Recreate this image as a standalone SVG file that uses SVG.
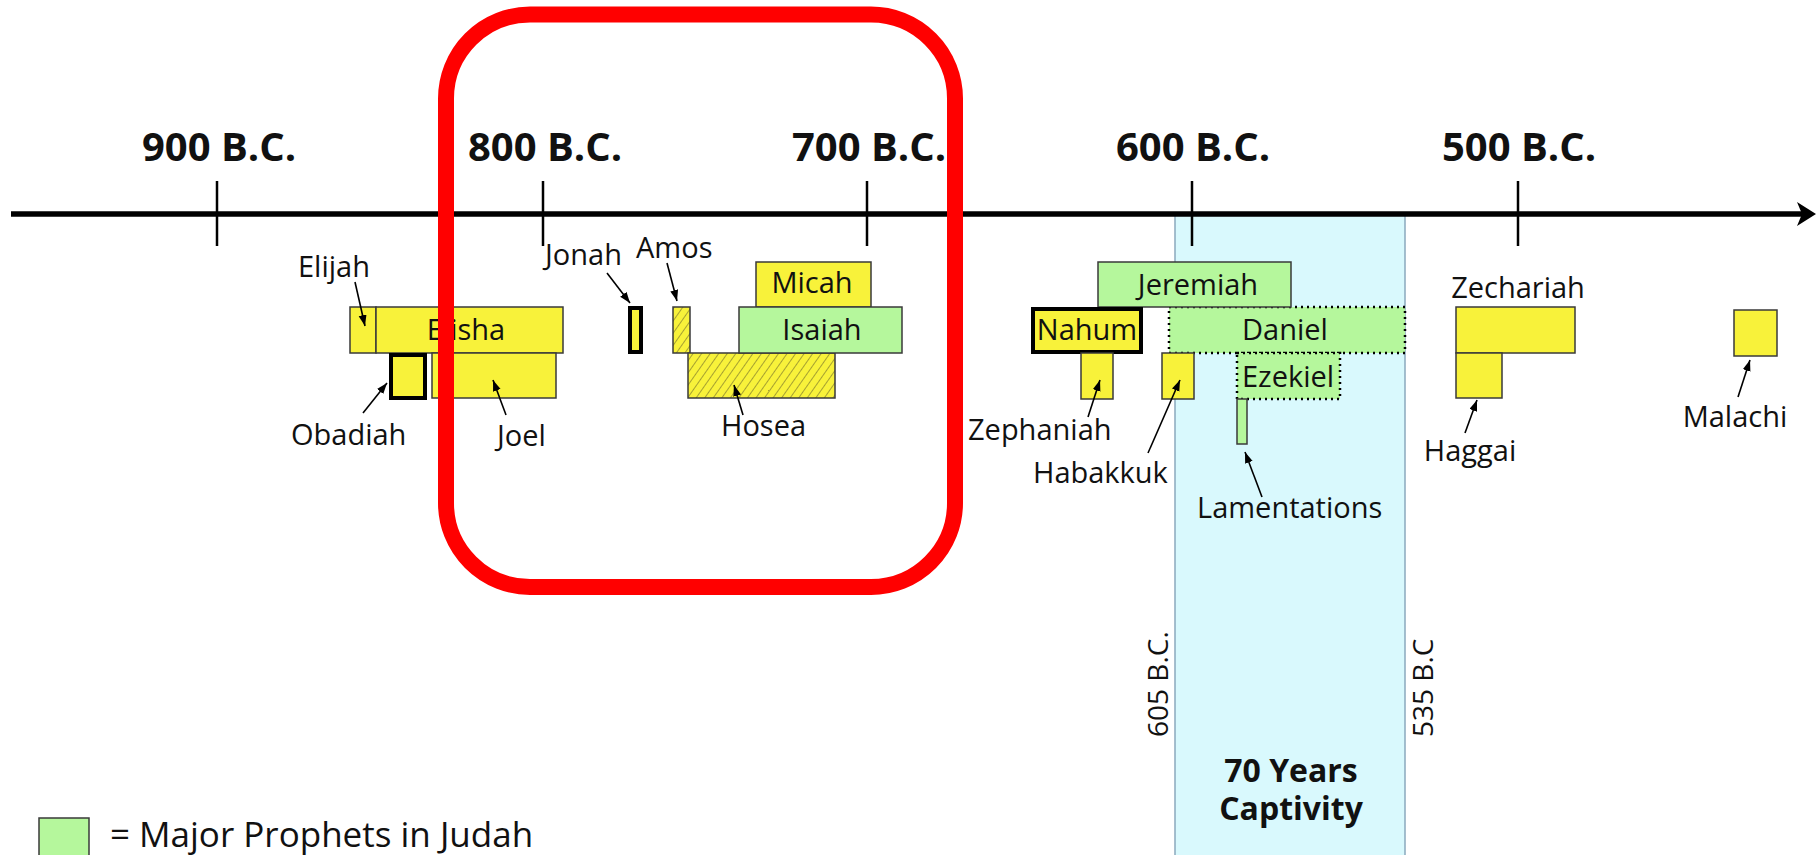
<svg xmlns="http://www.w3.org/2000/svg" width="1816" height="855" viewBox="0 0 1816 855">
<style>
  text { font-family: "Open Sans", "Liberation Sans", sans-serif; fill: #111; }
  .yr { font-size: 40px; font-weight: bold; text-anchor: middle; }
  .lbl { font-size: 29px; }
  .mid { text-anchor: middle; }
  .yel { fill: #f8f23a; stroke: #3a3a3a; stroke-width: 1.5; }
  .grn { fill: #b5f79c; stroke: #3a3a3a; stroke-width: 1.5; }
  .thick { fill: #f8f23a; stroke: #000; stroke-width: 4; }
  .hatch { fill: url(#hatch); stroke: #3a3a3a; stroke-width: 1.5; }
  .dot { fill: none; stroke: #000; stroke-width: 2.5; stroke-dasharray: 2 4; }
  .tick { stroke: #000; stroke-width: 2.5; }
  .arr { stroke: #000; stroke-width: 1.6; fill: none; marker-end: url(#ah); }
  .cap { font-size: 32px; font-weight: bold; text-anchor: middle; }
  .rot { font-size: 28px; }
</style>
<defs>
  <pattern id="hatch" patternUnits="userSpaceOnUse" width="7" height="7" patternTransform="rotate(35)">
    <rect width="7" height="7" fill="#f8f23a"/>
    <line x1="0" y1="0" x2="0" y2="7" stroke="#6e6a2a" stroke-width="1.2"/>
  </pattern>
  <marker id="ah" markerUnits="userSpaceOnUse" markerWidth="12" markerHeight="10" refX="11" refY="4" orient="auto">
    <path d="M0,0 L11,4 L0,8 Z" fill="#000"/>
  </marker>
</defs>
<rect width="1816" height="855" fill="#fff"/>

<g id="captivity">
  <rect x="1175" y="214" width="230" height="645" fill="#d9f9fd" stroke="#8aa9bd" stroke-width="1.5"/>
  <text class="cap" x="1291" y="782">70 Years</text>
  <text class="cap" x="1291" y="820">Captivity</text>
  <text class="rot" transform="translate(1168,737) rotate(-90)">605 B.C.</text>
  <text class="rot" transform="translate(1433,737) rotate(-90)">535 B.C</text>
</g>

<g id="axis">
  <line x1="11" y1="214" x2="1804" y2="214" stroke="#000" stroke-width="5.5"/>
  <path d="M1816,214 L1797,202 L1802,214 L1797,226 Z" fill="#000"/>
  <line class="tick" x1="217" y1="181" x2="217" y2="246"/>
  <line class="tick" x1="543" y1="181" x2="543" y2="246"/>
  <line class="tick" x1="867" y1="181" x2="867" y2="246"/>
  <line class="tick" x1="1192" y1="181" x2="1192" y2="246"/>
  <line class="tick" x1="1518" y1="181" x2="1518" y2="246"/>
  <text class="yr" x="219" y="161">900 B.C.</text>
  <text class="yr" x="545" y="161">800 B.C.</text>
  <text class="yr" x="869" y="161">700 B.C.</text>
  <text class="yr" x="1193" y="161">600 B.C.</text>
  <text class="yr" x="1519" y="161">500 B.C.</text>
</g>

<g id="elijah">
  <rect class="yel" x="350" y="307" width="26" height="46"/>
  <text class="lbl" x="298" y="277">Elijah</text>
</g>
<g id="elisha">
  <rect class="yel" x="376" y="307" width="187" height="46"/>
  <text class="lbl mid" x="466" y="340">Elisha</text>
</g>
<g id="obadiah">
  <rect class="thick" x="391" y="355" width="34" height="43"/>
  <text class="lbl" x="291" y="445">Obadiah</text>
</g>
<g id="joel">
  <rect class="yel" x="432" y="353" width="124" height="45"/>
  <text class="lbl" x="497" y="446">Joel</text>
</g>
<g id="jonah">
  <rect class="thick" x="630" y="308" width="11" height="44"/>
  <text class="lbl" x="545" y="265">Jonah</text>
</g>
<g id="amos">
  <rect class="hatch" x="673" y="307" width="17" height="46"/>
  <text class="lbl" x="636" y="258">Amos</text>
</g>
<g id="hosea">
  <rect class="hatch" x="688" y="353" width="147" height="45"/>
  <text class="lbl" x="721" y="436">Hosea</text>
</g>
<g id="micah">
  <rect class="yel" x="756" y="262" width="115" height="45"/>
  <text class="lbl mid" x="812" y="293">Micah</text>
</g>
<g id="isaiah">
  <rect class="grn" x="739" y="307" width="163" height="46"/>
  <text class="lbl mid" x="822" y="340">Isaiah</text>
</g>

<g id="daniel">
  <rect x="1169" y="307" width="236" height="46" fill="#b5f79c"/>
  <rect class="dot" x="1169" y="307" width="236" height="46"/>
  <text class="lbl mid" x="1285" y="340">Daniel</text>
</g>
<g id="ezekiel">
  <rect x="1237" y="353" width="103" height="46" fill="#b5f79c"/>
  <rect class="dot" x="1237" y="353" width="103" height="46"/>
  <text class="lbl mid" x="1288" y="387">Ezekiel</text>
</g>
<g id="jeremiah">
  <rect class="grn" x="1098" y="262" width="193" height="45"/>
  <text class="lbl mid" x="1198" y="295">Jeremiah</text>
</g>
<g id="nahum">
  <rect class="thick" x="1033" y="309" width="108" height="43"/>
  <text class="lbl mid" x="1087" y="340">Nahum</text>
</g>
<g id="zephaniah">
  <rect class="yel" x="1081" y="353" width="32" height="46"/>
  <text class="lbl" x="968" y="440">Zephaniah</text>
</g>
<g id="habakkuk">
  <rect class="yel" x="1162" y="353" width="32" height="46"/>
  <text class="lbl" x="1033" y="483">Habakkuk</text>
</g>
<g id="lamentations">
  <rect class="grn" x="1237" y="399" width="10" height="45"/>
  <text class="lbl" x="1197" y="518">Lamentations</text>
</g>

<g id="zechariah">
  <rect class="yel" x="1456" y="307" width="119" height="46"/>
  <text class="lbl mid" x="1518" y="298">Zechariah</text>
</g>
<g id="haggai">
  <rect class="yel" x="1456" y="353" width="46" height="45"/>
  <text class="lbl mid" x="1470" y="461">Haggai</text>
</g>
<g id="malachi">
  <rect class="yel" x="1734" y="310" width="43" height="46"/>
  <text class="lbl mid" x="1735" y="427">Malachi</text>
</g>

<g id="connectors">
  <line class="arr" x1="355" y1="282" x2="365" y2="326"/>
  <line class="arr" x1="363" y1="413" x2="387" y2="383"/>
  <line class="arr" x1="506" y1="415" x2="493" y2="380"/>
  <line class="arr" x1="607" y1="273" x2="630" y2="303"/>
  <line class="arr" x1="667" y1="263" x2="677" y2="301"/>
  <line class="arr" x1="743" y1="415" x2="734" y2="385"/>
  <line class="arr" x1="1088" y1="417" x2="1100" y2="380"/>
  <line class="arr" x1="1148" y1="453" x2="1180" y2="380"/>
  <line class="arr" x1="1262" y1="497" x2="1245" y2="452"/>
  <line class="arr" x1="1465" y1="433" x2="1477" y2="400"/>
  <line class="arr" x1="1738" y1="397" x2="1750" y2="360"/>
</g>

<g id="legend">
  <rect class="grn" x="39" y="818" width="50" height="45"/>
  <text x="110" y="847" style="font-size:35px">= Major Prophets in Judah</text>
</g>

<g id="highlight">
  <rect x="446" y="14.5" width="509" height="572.5" rx="84" ry="84" fill="none" stroke="#ff0000" stroke-width="16"/>
</g>
</svg>
